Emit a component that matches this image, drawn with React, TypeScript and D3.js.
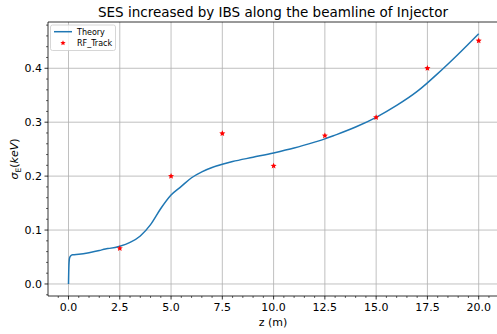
import * as d3 from 'd3';

const theoryZ = [
  0, 0.02, 0.05, 0.1, 0.2, 0.5, 1.0, 1.5, 1.8, 2.0, 2.5, 3.0, 3.5, 4.0, 4.5, 5.0, 5.5, 6.0, 6.5, 7.0,
  7.5, 8.0, 9.0, 10.0, 11.0, 12.0, 12.5, 13.0, 14.0, 15.0, 16.0, 17.0, 17.5, 18.0, 19.0, 20.0
];
const theorySigma = [
  0, 0.035, 0.048, 0.052, 0.054, 0.055, 0.058, 0.062, 0.065, 0.066, 0.07, 0.077, 0.089, 0.11, 0.14,
  0.165, 0.181, 0.197, 0.208, 0.216, 0.222, 0.227, 0.235, 0.243, 0.252, 0.263, 0.269, 0.276, 0.291,
  0.309, 0.331, 0.357, 0.373, 0.39, 0.426, 0.464
];

const trackZ = [2.5, 5.0, 7.5, 10.0, 12.5, 15.0, 17.5, 20.0];
const trackSigma = [0.066, 0.2, 0.279, 0.219, 0.275, 0.309, 0.4, 0.451];

const xTicks = [0, 2.5, 5, 7.5, 10, 12.5, 15, 17.5, 20];
const yTicks = [0, 0.1, 0.2, 0.3, 0.4];

const W = 497;
const H = 334;
const left = 48;
const right = 499.2;
const top = 22;
const bottom = 296;

const font = 'DejaVu Sans, sans-serif';

function starPath(cx: number, cy: number, r: number) {
  const pts: string[] = [];
  for (let i = 0; i < 10; i++) {
    const rr = i % 2 === 0 ? r : r * 0.45;
    const a = -Math.PI / 2 + (i * Math.PI) / 5;
    pts.push(`${cx + rr * Math.cos(a)},${cy + rr * Math.sin(a)}`);
  }
  return `M${pts.join('L')}Z`;
}

export default function App() {
  const x = d3.scaleLinear().domain([-1, 21]).range([left, right]);
  const y = d3.scaleLinear().domain([-0.0223, 0.4858]).range([bottom, top]);

  const line = d3
    .line<number>()
    .x((_, i) => x(theoryZ[i]))
    .y((v) => y(v))
    .curve(d3.curveMonotoneX);

  const xMinor = d3.range(-0.5, 21, 0.5).filter((v) => Math.abs((v / 2.5) - Math.round(v / 2.5)) > 1e-6);
  const yMinor = d3.range(-0.02, 0.49, 0.02).filter((v) => Math.abs(v * 10 - Math.round(v * 10)) > 1e-6);

  return (
    <svg
      width={W}
      height={H}
      style={{ position: 'fixed', left: 0, top: 0, background: '#fff' }}
      fontFamily={font}
    >
      <rect x={0} y={0} width={W} height={H} fill="#fff" />
      {xTicks.map((t) => (
        <line key={`gx${t}`} x1={x(t)} x2={x(t)} y1={top} y2={bottom} stroke="#b0b0b0" strokeWidth={0.8} />
      ))}
      {yTicks.map((t) => (
        <line key={`gy${t}`} x1={left} x2={right} y1={y(t)} y2={y(t)} stroke="#b0b0b0" strokeWidth={0.8} />
      ))}

      <path d={line(theorySigma) || ''} fill="none" stroke="#1f77b4" strokeWidth={1.5} />
      {trackZ.map((z, i) => (
        <path key={`s${z}`} d={starPath(x(z), y(trackSigma[i]), 3.2)} fill="red" />
      ))}

      <line x1={left} x2={left} y1={top} y2={bottom} stroke="#000" strokeWidth={0.8} />
      <line x1={left} x2={right} y1={bottom} y2={bottom} stroke="#000" strokeWidth={0.8} />
      <line x1={left} x2={right} y1={top} y2={top} stroke="#000" strokeWidth={0.8} />

      {xTicks.map((t) => (
        <g key={`xt${t}`}>
          <line x1={x(t)} x2={x(t)} y1={bottom} y2={bottom + 3.5} stroke="#000" strokeWidth={0.8} />
          <text x={x(t)} y={bottom + 14.5} fontSize={11} textAnchor="middle" fill="#000">
            {t.toFixed(1)}
          </text>
        </g>
      ))}
      {xMinor.map((t) => (
        <line key={`xm${t}`} x1={x(t)} x2={x(t)} y1={bottom} y2={bottom + 2} stroke="#000" strokeWidth={0.6} />
      ))}
      {yTicks.map((t) => (
        <g key={`yt${t}`}>
          <line x1={left - 3.5} x2={left} y1={y(t)} y2={y(t)} stroke="#000" strokeWidth={0.8} />
          <text x={left - 6} y={y(t) + 4} fontSize={11} textAnchor="end" fill="#000">
            {t.toFixed(1)}
          </text>
        </g>
      ))}
      {yMinor.map((t) => (
        <line key={`ym${t}`} x1={left - 2} x2={left} y1={y(t)} y2={y(t)} stroke="#000" strokeWidth={0.6} />
      ))}

      <text x={273} y={17} fontSize={13.5} textAnchor="middle" fill="#000">
        SES increased by IBS along the beamline of Injector
      </text>
      <text x={273} y={326} fontSize={11} textAnchor="middle" fill="#000">
        z (m)
      </text>
      <text transform={`translate(18, ${(top + bottom) / 2}) rotate(-90)`} fontSize={11} textAnchor="middle" fill="#000">
        <tspan fontStyle="italic">σ</tspan>
        <tspan fontSize={7.5} dy={2.5}>E</tspan>
        <tspan dy={-2.5}>(</tspan>
        <tspan fontStyle="italic">keV</tspan>
        <tspan>)</tspan>
      </text>

      <rect x={50.5} y={25} width={65} height={25.5} rx={2} fill="#fff" fillOpacity={0.8} stroke="#cccccc" strokeWidth={0.8} />
      <line x1={54} x2={72} y1={31.7} y2={31.7} stroke="#1f77b4" strokeWidth={1.5} />
      <text x={77} y={34.5} fontSize={8} fill="#000">Theory</text>
      <path d={starPath(63, 43, 2.8)} fill="red" />
      <text x={77} y={46} fontSize={8} fill="#000">RF_Track</text>
    </svg>
  );
}
